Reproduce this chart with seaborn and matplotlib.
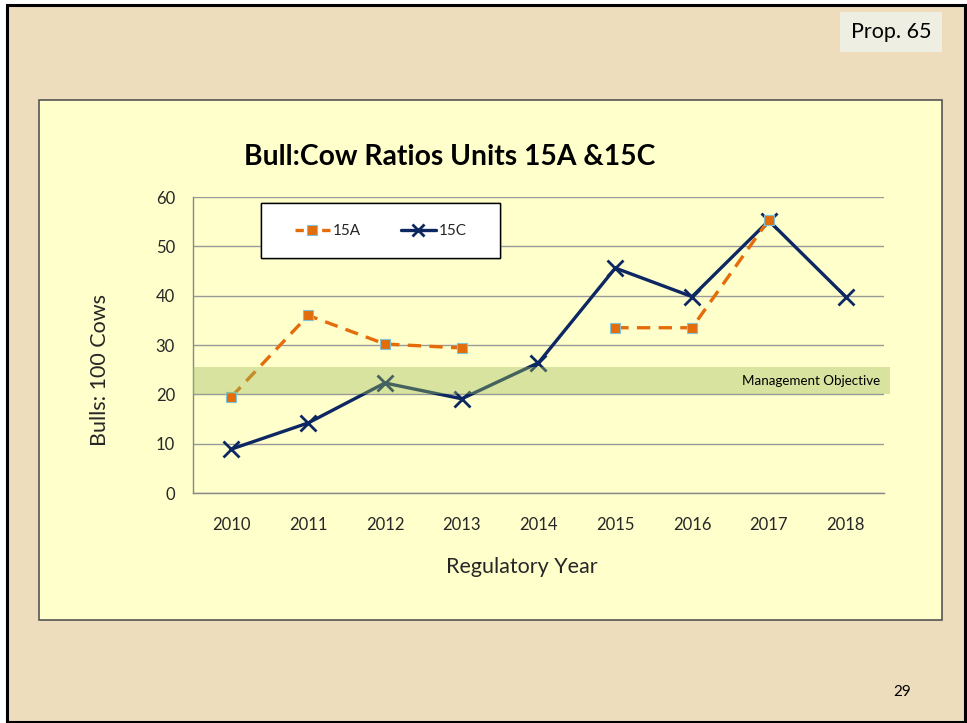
import numpy as np
import pandas as pd
import matplotlib.pyplot as plt
import seaborn as sns
from matplotlib.patches import Rectangle
from matplotlib.lines import Line2D

# data
years = ['2010', '2011', '2012', '2013', '2014', '2015', '2016', '2017', '2018']
ratio_15a = [19.5, 36.0, 30.2, 29.4, np.nan, 33.5, 33.5, 55.4, np.nan]
ratio_15c = [8.9, 14.2, 22.3, 19.1, 26.4, 45.6, 39.8, 55.2, 39.8]
objective_low = 20
objective_high = 25.5

sns.set_theme(style='white')
plt.rcParams['font.family'] = ['Lato', 'DejaVu Sans']

rows = []
for name, vals in [('15A', ratio_15a), ('15C', ratio_15c)]:
    seg = 0
    for i, v in enumerate(vals):
        if np.isnan(v):
            seg += 1
            continue
        rows.append({'pos': i, 'value': v, 'series': name, 'seg': seg})
df = pd.DataFrame(rows)

W, H = 967, 723
fig = plt.figure(figsize=(W / 100, H / 100), dpi=100, facecolor='white')

# slide background + frame
fig.patches.append(Rectangle((7 / W, 1 - 722 / H), 958 / W, 717 / H, transform=fig.transFigure,
                             facecolor='#EDDDBD', edgecolor='black', linewidth=2.2, zorder=0))
# chart box
fig.patches.append(Rectangle((39 / W, 1 - 620 / H), 903 / W, 520 / H, transform=fig.transFigure,
                             facecolor='#FFFFCC', edgecolor='#555555', linewidth=1.2, zorder=0.5))
# Prop. 65 tag
fig.patches.append(Rectangle((840 / W, 1 - 52 / H), 102 / W, 40 / H, transform=fig.transFigure,
                             facecolor='#EFEEE2', edgecolor='none', zorder=0.5))
fig.text(891 / W, 1 - 32 / H, 'Prop. 65', ha='center', va='center', fontsize=15.5, color='black')
fig.text(902 / W, 1 - 692 / H, '29', ha='center', va='center', fontsize=11, color='black')

ax = fig.add_axes([193 / W, 1 - 493 / H, 691 / W, 296 / H])
ax.set_zorder(2)
ax.set_facecolor('none')

df_a = df[df['series'] == '15A']
df_c = df[df['series'] == '15C']
sns.lineplot(data=df_c, x='pos', y='value', units='seg', estimator=None, ax=ax,
             color='#0D2763', linewidth=2.4, marker='x', markersize=11,
             markeredgewidth=2, markeredgecolor='#0D2763', legend=False, zorder=3)
sns.lineplot(data=df_a, x='pos', y='value', units='seg', estimator=None, ax=ax,
             color='#E46C0A', linewidth=2.4, dashes=(4, 2.5), marker='s', markersize=7,
             markerfacecolor='#E46C0A', markeredgecolor='#7FC4D6', markeredgewidth=0.8,
             legend=False, zorder=4)

# management objective band (drawn over the lines)
band = ax.axhspan(objective_low, objective_high, xmin=0, xmax=1.009, color='#9BBB59',
                  alpha=0.40, linewidth=0, zorder=5)
band.set_clip_on(False)
ax.text(8.45, (objective_low + objective_high) / 2, 'Management Objective', ha='right',
        va='center', fontsize=9.6, color='black', zorder=6)

ax.set_xlim(-0.5, 8.5)
ax.set_ylim(0, 60)
ax.set_yticks(range(0, 61, 10))
ax.set_xticks(range(len(years)))
ax.set_xticklabels(years)
ax.set_xticks(np.arange(-0.5, 9, 1), minor=True)
ax.tick_params(axis='x', which='major', length=0, pad=17, labelsize=12)
ax.tick_params(axis='x', which='minor', length=5, width=1, color='#888888', direction='out')
ax.tick_params(axis='y', length=5, width=1, color='#888888', direction='out', pad=8, labelsize=12)
ax.yaxis.grid(True, color='#999999', linewidth=1)
ax.set_axisbelow(True)
for side in ['top', 'right']:
    ax.spines[side].set_visible(False)
for side in ['left', 'bottom']:
    ax.spines[side].set_color('#888888')
    ax.spines[side].set_linewidth(1)
ax.set_xlabel('Regulatory Year', fontsize=15.5)
ax.set_ylabel('Bulls: 100 Cows', fontsize=15.5)
ax.xaxis.set_label_coords((522 - 193) / 691, -(567 - 493) / 296)
ax.yaxis.set_label_coords(-(193 - 100) / 691, (493 - 370) / 296)
ax.xaxis.label.set_va('center')
ax.yaxis.label.set_va('center')

fig.text(450 / W, 1 - 157 / H, 'Bull:Cow Ratios Units 15A &15C', ha='center', va='center',
         fontsize=20.3, fontweight='bold', color='black')

# legend box
fig.patches.append(Rectangle((261 / W, 1 - 258 / H), 239 / W, 55 / H, transform=fig.transFigure,
                             facecolor='white', edgecolor='black', linewidth=1, zorder=1))
ax.add_patch(Rectangle((261 / W, 1 - 258 / H), 239 / W, 55 / H, transform=fig.transFigure,
                       facecolor='white', edgecolor='black', linewidth=1, zorder=6.5,
                       clip_on=False))
handles = [
    Line2D([], [], color='#E46C0A', linewidth=2.4, dashes=(2.5, 1.5), marker='s', markersize=7,
           markerfacecolor='#E46C0A', markeredgecolor='#7FC4D6', markeredgewidth=0.8),
    Line2D([], [], color='#0D2763', linewidth=2.4, marker='x', markersize=8,
           markeredgewidth=2, markeredgecolor='#0D2763'),
]
leg = ax.legend(handles, ['15A', '15C'], ncol=2, loc='center',
                bbox_to_anchor=((381 - 193) / 691, (493 - 231) / 296),
                frameon=False, fontsize=11, handlelength=2.3, handletextpad=0.2,
                columnspacing=2.6, borderpad=0, borderaxespad=0)
leg.set_zorder(7)

fig.savefig('out.png', dpi=100, facecolor=fig.get_facecolor())
